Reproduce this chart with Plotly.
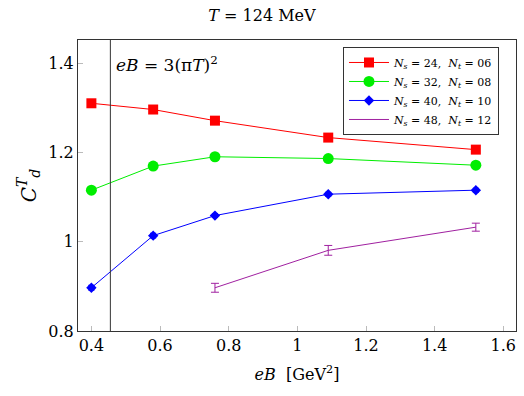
import plotly.graph_objects as go

eB = [0.40, 0.58, 0.76, 1.09, 1.52]
c24 = [1.311, 1.297, 1.272, 1.234, 1.207]
c32 = [1.116, 1.170, 1.191, 1.187, 1.172]
c40 = [0.897, 1.014, 1.059, 1.107, 1.116]
c40_err = [0.005, 0.005, 0.004, 0.004, 0.004]
eB48 = [0.76, 1.09, 1.52]
c48 = [0.897, 0.981, 1.033]
c48_err = [0.010, 0.011, 0.009]
eB_line = 0.4553
labels = ["<i>N<sub>s</sub></i> = 24,  <i>N<sub>t</sub></i> = 06",
          "<i>N<sub>s</sub></i> = 32,  <i>N<sub>t</sub></i> = 08",
          "<i>N<sub>s</sub></i> = 40,  <i>N<sub>t</sub></i> = 10",
          "<i>N<sub>s</sub></i> = 48,  <i>N<sub>t</sub></i> = 12"]

FONT = "DejaVu Serif"
fig = go.Figure()
fig.add_trace(go.Scatter(x=eB, y=c24, mode="lines+markers", name=labels[0],
                         line=dict(color="#ff0000", width=1),
                         marker=dict(symbol="square", size=10, color="#ff0000")))
fig.add_trace(go.Scatter(x=eB, y=c32, mode="lines+markers", name=labels[1],
                         line=dict(color="#00ee00", width=1),
                         marker=dict(symbol="circle", size=11, color="#00ee00")))
fig.add_trace(go.Scatter(x=eB, y=c40, mode="lines+markers", name=labels[2],
                         line=dict(color="#0000ff", width=1),
                         marker=dict(symbol="diamond", size=8, color="#0000ff"),
                         error_y=dict(type="data", array=c40_err, color="#0000ff", width=3, thickness=1.5)))
fig.add_trace(go.Scatter(x=eB48, y=c48, mode="lines", name=labels[3],
                         line=dict(color="#a020a0", width=1),
                         error_y=dict(type="data", array=c48_err, color="#a020a0", width=4, thickness=1)))

fig.add_shape(type="line", x0=eB_line, x1=eB_line, y0=0, y1=1, yref="paper", xref="x",
              line=dict(color="#333333", width=1))
fig.add_annotation(x=eB_line, y=1.4, xref="x", yref="y", xanchor="left", xshift=4,
                   text="<i>eB</i> = 3(π<i>T</i>)<sup>2</sup>", showarrow=False,
                   font=dict(family=FONT, size=17, color="black"))

axis_common = dict(showline=True, linecolor="#333333", linewidth=1, mirror=True,
                   ticks="inside", ticklen=5, tickcolor="#bbbbbb", showgrid=False,
                   zeroline=False, tickfont=dict(family=FONT, size=16, color="black"))
fig.update_xaxes(range=[0.361, 1.637], tickvals=[0.4, 0.6, 0.8, 1.0, 1.2, 1.4, 1.6],
                 ticktext=["0.4", "0.6", "0.8", "1", "1.2", "1.4", "1.6"],
                 title=dict(text="<i>eB</i>  [GeV<sup>2</sup>]", font=dict(family=FONT, size=16, color="black"),
                            standoff=14),
                 **axis_common)
fig.update_yaxes(range=[0.8, 1.453], tickvals=[0.8, 1.0, 1.2, 1.4],
                 ticktext=["0.8", "1", "1.2", "1.4"],
                 title=dict(text="<i>C</i><sup><i>T</i></sup><sub><i>d</i></sub>",
                            font=dict(family=FONT, size=20, color="black"), standoff=6),
                 **axis_common)
fig.update_layout(
    width=524, height=396,
    margin=dict(l=78, r=8, t=40, b=65),
    paper_bgcolor="white", plot_bgcolor="white",
    title=dict(text="<i>T</i> = 124 MeV", x=0.5, xanchor="center", y=0.962, yanchor="middle",
               font=dict(family=FONT, size=16, color="black")),
    legend=dict(x=0.605, y=0.976, xanchor="left", yanchor="top",
                bordercolor="#333333", borderwidth=1, bgcolor="white",
                font=dict(family=FONT, size=11, color="black"),
                tracegroupgap=0, itemwidth=40),
    showlegend=True,
)
fig.write_html("out.html")
